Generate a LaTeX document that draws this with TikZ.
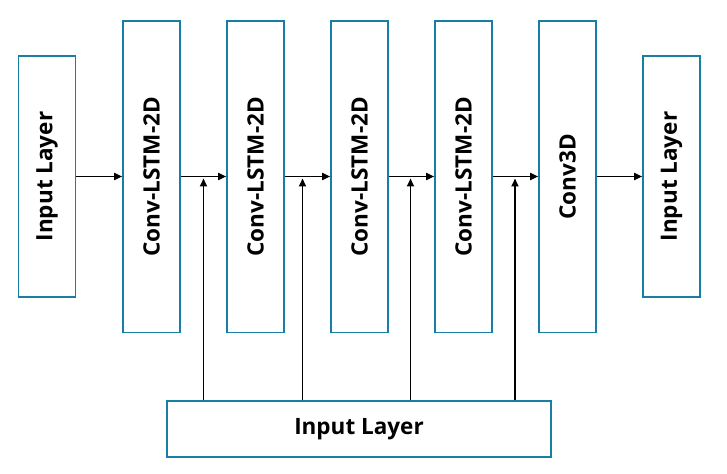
\documentclass[tikz,border=0pt]{standalone}
\usepackage{fontspec}
\setmainfont{Open Sans}
\usetikzlibrary{arrows.meta}
\definecolor{boxblue}{RGB}{24,126,164}
\tikzset{
  layer/.style={draw=boxblue, line width=1.6bp, fill=white, rectangle, inner sep=0pt,
    font=\fontsize{22.5bp}{26bp}\selectfont\bfseries},
  tall/.style={layer, minimum width=57bp, minimum height=311.5bp},
  short/.style={layer, minimum width=57bp, minimum height=241bp},
  link/.style={line width=1.7bp, -{Triangle[length=8bp,width=7bp]}}
}
\begin{document}
\begin{tikzpicture}[x=1bp,y=-1bp]
\useasboundingbox (0,0) rectangle (727,474);
\node[short] (in1) at (47,176.5) {\rotatebox{90}{Input Layer}};
\node[tall] (c1) at (151.5,176.75) {\rotatebox{90}{Conv-LSTM-2D}};
\node[tall] (c2) at (255.5,176.75) {\rotatebox{90}{Conv-LSTM-2D}};
\node[tall] (c3) at (359.5,176.75) {\rotatebox{90}{Conv-LSTM-2D}};
\node[tall] (c4) at (463.5,176.75) {\rotatebox{90}{Conv-LSTM-2D}};
\node[tall] (c5) at (567.5,176.75) {\rotatebox{90}{Conv3D}};
\node[short] (out) at (671.5,176.5) {\rotatebox{90}{Input Layer}};
\node[layer, minimum width=384bp, minimum height=56bp] (inb) at (359,429) {Input Layer};
\coordinate (j1) at (203.5,178.5);
\coordinate (j2) at (302.5,178.5);
\coordinate (j3) at (410.5,178.5);
\coordinate (j4) at (515,178.5);
\draw[link] (in1.east) -- (c1.west |- in1.east);
\draw[link] (c1.east |- in1.east) -- (c2.west |- in1.east);
\draw[link] (c2.east |- in1.east) -- (c3.west |- in1.east);
\draw[link] (c3.east |- in1.east) -- (c4.west |- in1.east);
\draw[link] (c4.east |- in1.east) -- (c5.west |- in1.east);
\draw[link] (c5.east |- in1.east) -- (out.west);
\draw[link] (inb.north -| j1) -- (j1);
\draw[link] (inb.north -| j2) -- (j2);
\draw[link] (inb.north -| j3) -- (j3);
\draw[link] (inb.north -| j4) -- (j4);
\end{tikzpicture}
\end{document}
